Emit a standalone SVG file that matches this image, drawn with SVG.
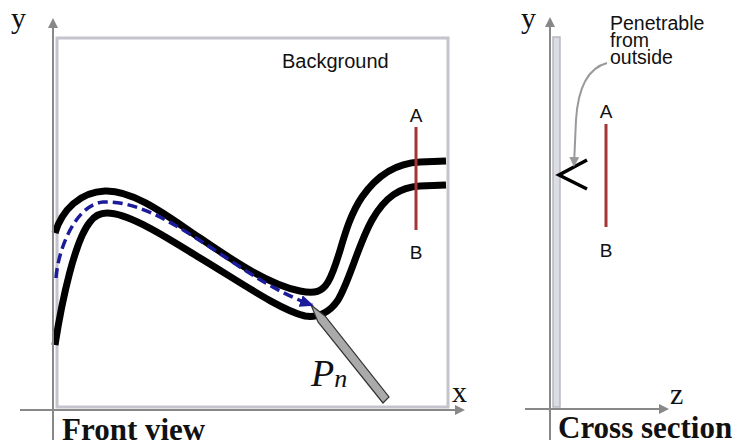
<svg xmlns="http://www.w3.org/2000/svg" width="738" height="446" viewBox="0 0 738 446">
<style>
.axis{stroke:#888;stroke-width:2;fill:none}
.frame{stroke:#c4c4cc;stroke-width:3;fill:none}
.curve{stroke:#000;stroke-width:7;fill:none;stroke-linecap:butt}
.red{stroke:#a33535;stroke-width:3}
.sans{font-family:"Liberation Sans",Arial,sans-serif;fill:#111}
.serif{font-family:"Liberation Serif","Times New Roman",serif;fill:#111}
.title{font-family:"Liberation Serif","Times New Roman",serif;font-weight:bold;font-size:31px;fill:#111}
</style>
<defs>
<marker id="ax" markerWidth="10" markerHeight="10" refX="8" refY="5" orient="auto" markerUnits="userSpaceOnUse">
<path d="M0,0 L10,5 L0,10 z" fill="#888"/>
</marker>
<marker id="bl" markerWidth="14" markerHeight="12" refX="12" refY="6" orient="auto" markerUnits="userSpaceOnUse">
<path d="M0,0 L14,6 L0,12 z" fill="#1c1c9a"/>
</marker>
<marker id="gr" markerWidth="10" markerHeight="10" refX="8" refY="5" orient="auto" markerUnits="userSpaceOnUse">
<path d="M0,0 L10,5 L0,10 z" fill="#999"/>
</marker>
</defs>
<rect width="738" height="446" fill="#fff"/>

<g id="front-view">
<rect class="frame" x="57" y="38" width="391" height="369"/>
<text class="serif" x="11" y="28" font-size="30">y</text>
<text class="serif" x="452" y="402" font-size="30">x</text>
<text class="sans" x="282" y="68" font-size="20">Background</text>
<text class="title" x="62" y="440">Front view</text>
</g>

<g id="vessel">
<path class="curve" d="M55 233 C62 210 80 192 105 191 C135 190 170 218 200 238 C235 262 270 285 300 291 C315 294 322 292 328 282 C340 262 343 225 362 197 C378 174 398 163 420 162 L446 161"/>
<path class="curve" d="M55 345 C62 300 75 240 90 222 C95 215 100 213 107 213 C130 213 170 240 200 258 C240 282 280 310 305 316 C318 318 330 312 338 300 C350 280 358 245 372 220 C385 197 400 187 420 186 L446 185"/>
</g>

<g id="section-AB-front">
<line class="red" x1="416" y1="127" x2="416" y2="230"/>
<text class="sans" x="416" y="122" font-size="19" text-anchor="middle">A</text>
<text class="sans" x="416" y="259" font-size="19" text-anchor="middle">B</text>
</g>

<g id="probe">
<polygon points="311,305 325,316 389,397 383,403 318,322" fill="#aaa" stroke="#333" stroke-width="1.2"/>
<text class="serif" x="311" y="386" font-size="38" font-style="italic">P<tspan font-size="26" dy="1">n</tspan></text>
</g>

<g id="cross-section">
<rect x="553" y="37" width="7" height="370" fill="#dcdce4" stroke="#b8b8c2" stroke-width="1.5"/>
<text class="serif" x="521" y="28" font-size="30">y</text>
<text class="serif" x="670" y="404" font-size="30">z</text>
<text class="title" x="558" y="438">Cross section</text>
<path d="M587 160 L559 175 L587 189" fill="none" stroke="#000" stroke-width="3.5"/>
<line class="red" x1="606" y1="124" x2="606" y2="227"/>
<text class="sans" x="606" y="118" font-size="19" text-anchor="middle">A</text>
<text class="sans" x="606" y="257" font-size="19" text-anchor="middle">B</text>
<text class="sans" font-size="19.5"><tspan x="610" y="30">Penetrable</tspan><tspan x="610" y="47">from</tspan><tspan x="610" y="64">outside</tspan></text>
</g>

<g id="connectors">
<line class="axis" x1="53" y1="440" x2="53" y2="20" marker-end="url(#ax)"/>
<line class="axis" x1="20" y1="410" x2="463" y2="410" marker-end="url(#ax)"/>
<line class="axis" x1="550" y1="440" x2="550" y2="19" marker-end="url(#ax)"/>
<line class="axis" x1="525" y1="409" x2="667" y2="409" marker-end="url(#ax)"/>
<path d="M56 278 C58 250 75 205 103 202 C140 200 180 228 210 247 C245 270 275 292 312 305" fill="none" stroke="#1c1c9a" stroke-width="3.5" stroke-dasharray="10 5" marker-end="url(#bl)"/>
<path d="M607 63 C588 68 578 88 576 120 L574 165" fill="none" stroke="#999" stroke-width="2" marker-end="url(#gr)"/>
</g>
</svg>
